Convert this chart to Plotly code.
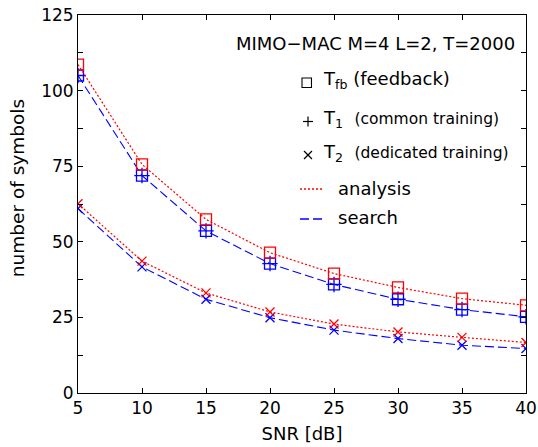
import plotly.graph_objects as go

snr = [5, 10, 15, 20, 25, 30, 35, 40]
analysis_fb = [108.6, 75.6, 57.4, 46.4, 39.5, 34.9, 31.2, 29.0]
search_fb = [105.0, 71.9, 53.6, 42.8, 35.9, 31.0, 27.6, 25.2]
search_t1 = [105.0, 71.9, 53.6, 42.8, 35.9, 31.0, 27.6, 25.2]
analysis_t2 = [62.6, 43.6, 33.1, 26.8, 22.8, 20.2, 18.4, 16.7]
search_t2 = [61.0, 41.7, 31.0, 24.9, 20.8, 18.0, 15.8, 14.7]
y_ticks = [0, 25, 50, 75, 100, 125]
x_ticks = [5, 10, 15, 20, 25, 30, 35, 40]

RED = "rgb(255,0,0)"
BLUE = "rgb(0,0,255)"
FONT = "DejaVu Sans"
W, H = 538, 447
ML, MR, MT, MB = 77.5, 11.5, 15, 54

fig = go.Figure()
# search curves (blue dashed)
fig.add_trace(go.Scatter(x=snr, y=search_fb, mode="lines+markers",
                         line=dict(color=BLUE, width=1.1, dash="9px,4px"),
                         marker=dict(symbol="square-open", size=11, color=BLUE, line=dict(width=1.3, color=BLUE))))
fig.add_trace(go.Scatter(x=snr, y=search_t1, mode="markers",
                         marker=dict(symbol="cross-thin-open", size=11, color=BLUE, line=dict(width=1.3, color=BLUE))))
fig.add_trace(go.Scatter(x=snr, y=search_t2, mode="lines+markers",
                         line=dict(color=BLUE, width=1.1, dash="9px,4px"),
                         marker=dict(symbol="x-thin-open", size=9, color=BLUE, line=dict(width=1.3, color=BLUE))))
# analysis curves (red dotted)
fig.add_trace(go.Scatter(x=snr, y=analysis_fb, mode="lines+markers",
                         line=dict(color=RED, width=1.2, dash="2px,2px"),
                         marker=dict(symbol="square-open", size=11, color=RED, line=dict(width=1.3, color=RED))))
fig.add_trace(go.Scatter(x=snr, y=analysis_t2, mode="lines+markers",
                         line=dict(color=RED, width=1.2, dash="2px,2px"),
                         marker=dict(symbol="x-thin-open", size=9, color=RED, line=dict(width=1.3, color=RED))))

PW = W - ML - MR
PH = H - MT - MB


def px(xp):
    return (xp - ML) / PW


def py(yp):
    return (H - MB - yp) / PH


annotations = []


def txt(s, x, y, size=18, anchor="left", angle=0):
    annotations.append(dict(text=s, x=px(x), y=py(y), xref="paper", yref="paper",
                            xanchor=anchor, yanchor="middle", showarrow=False, textangle=angle,
                            font=dict(family=FONT, size=size, color="black")))


txt("MIMO\u2212MAC M=4 L=2, T=2000", 517, 43, anchor="right")
txt("T<sub>fb</sub> (feedback)", 321, 80)
txt("T<sub>1</sub>  <span style='font-size:15.5px'>(common training)</span>", 321, 119)
txt("T<sub>2</sub>  <span style='font-size:15.5px'>(dedicated training)</span>", 321, 153)
txt("analysis", 336, 188)
txt("search", 336, 217)
txt("number of symbols", 17, 188.5, size=18.5, anchor="center", angle=-90)

shapes = []


def seg(x0, y0, x1, y1, color="black", dash="solid", width=1.2):
    shapes.append(dict(type="line", xref="paper", yref="paper",
                       x0=px(x0), y0=py(y0), x1=px(x1), y1=py(y1),
                       line=dict(color=color, width=width, dash=dash)))


shapes.append(dict(type="rect", xref="paper", yref="paper",
                   x0=px(302), x1=px(311.5), y0=py(78), y1=py(87.5),
                   line=dict(color="black", width=1.1)))
seg(303, 121.5, 313, 121.5)
seg(308, 116.5, 308, 126.5)
seg(304, 151, 312, 159)
seg(304, 159, 312, 151)
seg(300, 189, 323, 189, color=RED, dash="2px,2px", width=1.3)
seg(300, 219, 325, 219, color=BLUE, dash="9px,4px", width=1.3)

fig.update_layout(
    width=W, height=H,
    margin=dict(l=ML, r=MR, t=MT, b=MB, pad=0, autoexpand=False),
    paper_bgcolor="white", plot_bgcolor="white",
    showlegend=False,
    font=dict(family=FONT, size=17, color="black"),
    annotations=annotations, shapes=shapes,
    xaxis=dict(range=[5, 40], tickmode="array", tickvals=x_ticks, automargin=False,
               ticks="inside", ticklen=5, tickcolor="black", showline=True,
               linecolor="black", linewidth=1, mirror="ticks", showgrid=False,
               zeroline=False, tickfont=dict(size=17),
               title=dict(text="SNR [dB]", font=dict(size=18), standoff=9)),
    yaxis=dict(range=[0, 125], tickmode="array", tickvals=y_ticks, automargin=False,
               ticks="inside", ticklen=5, tickcolor="black", showline=True,
               linecolor="black", linewidth=1, mirror="ticks", showgrid=False,
               zeroline=False, tickfont=dict(size=17),
               minor=dict(tickvals=[12.5, 37.5, 62.5, 87.5, 112.5], ticks="inside", ticklen=5, tickcolor="black")),
)

fig.write_html("out.html")
